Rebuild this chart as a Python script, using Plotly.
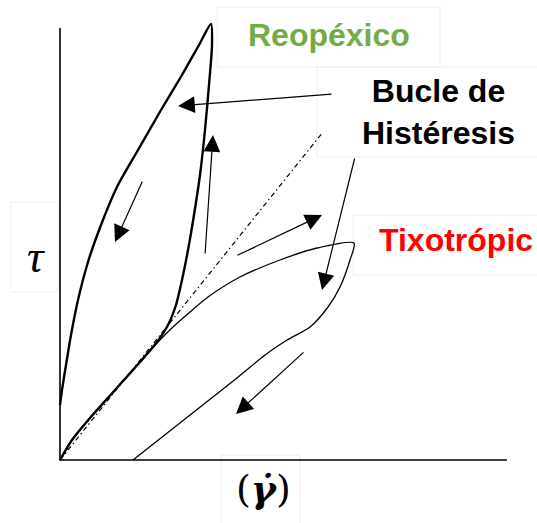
import plotly.graph_objects as go

# Coordinate system: shear rate (x) vs shear stress (y), origin at axis corner.
axis_x_max = 447
axis_y_max = 432

# Rheopectic loop (thick): up along common line, up the right branch, back down the left branch
reo_x = [0, 12, 30, 55, 80, 97, 108, 116, 122, 128, 134, 140, 145, 149, 152, 151,
         139, 122, 101, 78, 57, 41, 28, 18, 11, 6, 2, 0]
reo_y = [0, 20, 42, 70, 98, 118, 135, 155, 180, 210, 245, 285, 330, 375, 415, 436,
         415, 385, 350, 310, 273, 235, 198, 160, 125, 95, 70, 55]

# Thixotropic loop (thin)
tix_x = [0, 12, 30, 55, 80, 97, 113, 130, 148, 180, 220, 257, 294, 290, 280, 268, 250, 227, 205, 177, 73]
tix_y = [0, 20, 42, 70, 98, 117, 133, 148, 163, 183, 200, 212, 217, 200, 173, 153, 133, 120, 105, 82, 0]

# Newtonian reference (dash-dot)
newt_x = [0, 263]
newt_y = [0, 328]

# Arrows: tail (x0, y0) -> head (x1, y1)
arrow_x0 = [273, 145, 83, 295, 176, 245]
arrow_y0 = [366, 205, 280, 303, 204, 109]
arrow_x1 = [118, 153, 55, 262, 262, 176]
arrow_y1 = [354, 325, 218, 170, 245, 46]

# Labels
label_text = ["Reopéxico", "Bucle de<br>Histéresis", "Tixotrópic"]
label_color = ["#70AD47", "#000000", "#FF0000"]
label_x = [269, 378, 396]
label_y = [425, 348, 220]

# Faint text-box frames [x0, y0, x1, y1]
box_x0 = [157, 257, 293, -49, 161]
box_y0 = [393, 303, 185, 168, -70]
box_x1 = [380, 480, 480, -2, 240]
box_y1 = [453, 393, 245, 258, 5]

fig = go.Figure()

fig.add_trace(go.Scatter(x=newt_x, y=newt_y, mode="lines",
                         line=dict(color="black", width=1.2, dash="5px,3px,1.5px,3px"),
                         hoverinfo="skip"))
fig.add_trace(go.Scatter(x=tix_x, y=tix_y, mode="lines",
                         line=dict(color="black", width=1.3, shape="spline", smoothing=0.7),
                         hoverinfo="skip"))
fig.add_trace(go.Scatter(x=reo_x, y=reo_y, mode="lines",
                         line=dict(color="black", width=2.4, shape="spline", smoothing=0.7),
                         hoverinfo="skip"))

# Axes
fig.add_trace(go.Scatter(x=[0, 0, axis_x_max], y=[axis_y_max, 0, 0], mode="lines",
                         line=dict(color="black", width=1.6), hoverinfo="skip"))

for bx0, by0, bx1, by1 in zip(box_x0, box_y0, box_x1, box_y1):
    fig.add_shape(type="rect", x0=bx0, y0=by0, x1=bx1, y1=by1,
                  line=dict(color="#eeeeee", width=1), layer="below")

for x0, y0, x1, y1 in zip(arrow_x0, arrow_y0, arrow_x1, arrow_y1):
    fig.add_annotation(x=x1, y=y1, ax=x0, ay=y0, xref="x", yref="y", axref="x", ayref="y",
                       showarrow=True, arrowhead=2, arrowsize=2.8, arrowwidth=1.2,
                       arrowcolor="black", standoff=0, text="")

for t, c, x, y in zip(label_text, label_color, label_x, label_y):
    fig.add_annotation(x=x, y=y, xref="x", yref="y", text=t, showarrow=False,
                       font=dict(family="Liberation Sans, Arial", size=32, color=c, weight="bold"),
                       xanchor="center", yanchor="middle")

fig.add_annotation(x=-24, y=204, xref="x", yref="y", text="<i>τ</i>", showarrow=False,
                   font=dict(family="Liberation Serif, Times New Roman", size=46, color="black"))
fig.add_annotation(x=203, y=-28, xref="x", yref="y", text="(<i><b>γ\u0307</b></i>)", showarrow=False,
                   font=dict(family="DejaVu Serif", size=38, color="black"))

fig.update_layout(
    width=537, height=523,
    margin=dict(l=0, r=0, t=0, b=0),
    paper_bgcolor="white", plot_bgcolor="white",
    showlegend=False,
    xaxis=dict(range=[-60, 477], visible=False, fixedrange=True),
    yaxis=dict(range=[-63, 460], visible=False, fixedrange=True),
)

fig.write_html("out.html", config={"displayModeBar": False},
               post_script="document.body.style.margin='0px';")
